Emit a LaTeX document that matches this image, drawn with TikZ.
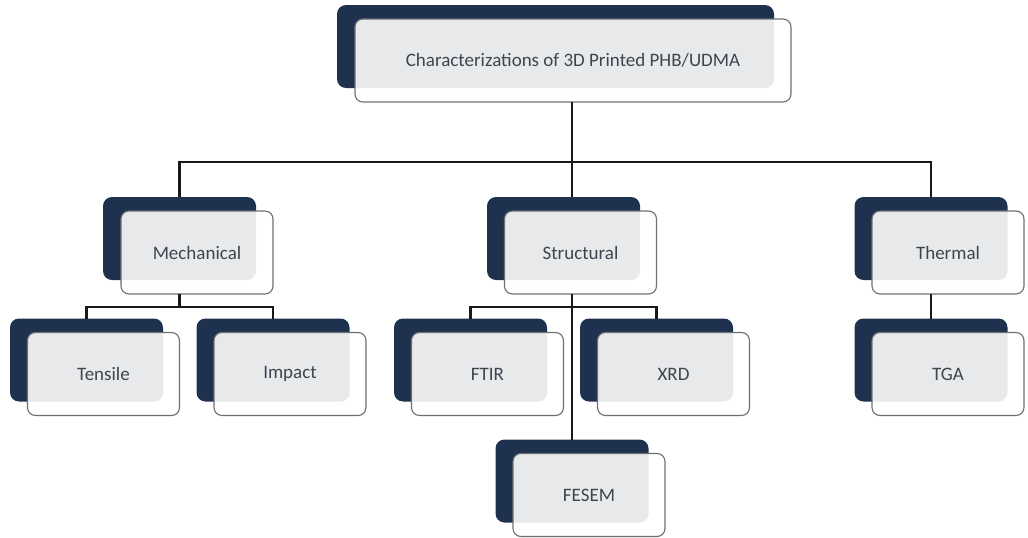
\documentclass[tikz,border=0pt]{standalone}
\usepackage{fontspec}
\setmainfont{Carlito}
\definecolor{navy}{HTML}{1E3250}
\definecolor{paper}{HTML}{E8E9EB}
\definecolor{ink}{HTML}{3E4450}
\definecolor{rim}{HTML}{6F6F6F}

\begin{document}
\begin{tikzpicture}[x=1pt,y=-1pt,
  backbox/.style={fill=navy, rounded corners=9pt, minimum width=153pt,
    minimum height=83pt, inner sep=0pt, outer sep=0pt},
  frontbox/.style={draw=rim, line width=1.1pt, fill=white, rounded corners=8pt,
    minimum width=152pt, minimum height=83pt, inner sep=0pt, outer sep=0pt,
    text=ink, font=\fontsize{19}{22}\selectfont,
    path picture={\clip[rounded corners=9pt] (#1.north west) rectangle (#1.south east);
      \fill[paper] (path picture bounding box.north west) rectangle (path picture bounding box.south east);}},
  link/.style={line width=2.4pt, black!90}]
        \useasboundingbox (0,0) rectangle (1028,538);

        % head
        \node[backbox, minimum width=437pt] (topB) at (555.5,46.5) {};
        \node[frontbox=topB, minimum width=436pt] (top) at (573,60.5) {Characterizations of 3D Printed PHB/UDMA};

        % groups
        \node[backbox] (mechB) at (179.5,238.5) {};
        \node[frontbox=mechB] (mech) at (197,252.5) {Mechanical};
        \node[backbox] (structB) at (563.5,238.5) {};
        \node[frontbox=structB] (struct) at (580.5,252.5) {Structural};
        \node[backbox] (thermB) at (931,238.5) {};
        \node[frontbox=thermB] (therm) at (948,252.5) {Thermal};

        % tests
        \node[backbox] (tensB) at (86.5,360) {};
        \node[frontbox=tensB] (tens) at (103.5,374) {Tensile};
        \node[backbox] (impB) at (273,360) {};
        \node[frontbox=impB] (imp) at (290,374) {Impact};
        \node[backbox] (ftirB) at (470.5,360) {};
        \node[frontbox=ftirB] (ftir) at (487.5,374) {FTIR};
        \node[backbox] (xrdB) at (656.5,360) {};
        \node[frontbox=xrdB] (xrd) at (673.5,374) {XRD};
        \node[backbox] (tgaB) at (931,360) {};
        \node[frontbox=tgaB] (tga) at (948,374) {TGA};
        \node[backbox] (fesemB) at (572,481) {};
        \node[frontbox=fesemB] (fesem) at (589,495) {FESEM};

        % links
        \coordinate (bus) at (572,162);
        \draw[link] (top.south -| bus) -- (bus);
        \draw[link] (mechB.north) |- (bus) -| (thermB.north);
        \draw[link] (bus) -- (structB.north -| bus);

        \coordinate (mbus) at (179.5,307);
        \draw[link] (mech.south -| mbus) -- (mbus);
        \draw[link] (tensB.north) |- (mbus) -| (impB.north);

        \coordinate (sbus) at (572,307);
        \draw[link] (struct.south -| sbus) -- (fesemB.north);
        \draw[link] (ftirB.north) |- (sbus) -| (xrdB.north);

        \draw[link] (therm.south -| thermB.north) -- (tgaB.north);
      \end{tikzpicture}
\end{document}
